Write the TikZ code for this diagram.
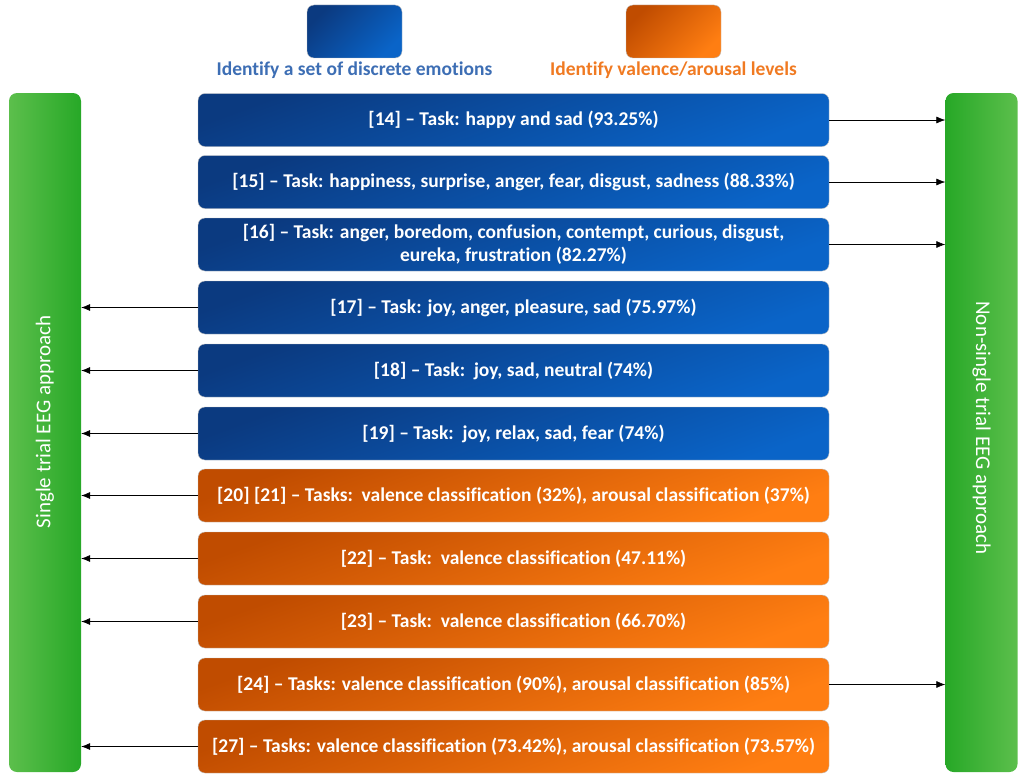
\documentclass[tikz,border=0pt]{standalone}
\usepackage{fontspec}
\setmainfont{Carlito}[Ligatures=NoCommon]
\usetikzlibrary{arrows.meta}
\definecolor{bluedark}{HTML}{0B3A80}
\definecolor{bluelight}{HTML}{0A64C8}
\definecolor{orgdark}{HTML}{C04C00}
\definecolor{orglight}{HTML}{FF7E12}
\definecolor{grnlight}{HTML}{5CBF4C}
\definecolor{grndark}{HTML}{27A827}
\definecolor{legblue}{HTML}{3D6EB4}
\definecolor{legorg}{HTML}{F07A22}
\tikzset{
  base/.style={rounded corners=7pt, minimum width=631pt, minimum height=53pt, inner sep=2pt,
    text=white, font=\fontsize{19.5}{23}\selectfont\bfseries, align=center, draw=black!25, line width=0.4pt},
  bluebox/.style={base, top color=bluedark, bottom color=bluelight, shading angle=20},
  orgbox/.style={base, top color=orgdark, bottom color=orglight, shading angle=20},
  legbox/.style={rounded corners=7pt, minimum width=95pt, minimum height=53pt, draw=black!25, line width=0.4pt},
  bar/.style={rounded corners=8pt, minimum width=72pt, minimum height=679pt, inner sep=0pt},
  bartext/.style={text=white, font=\fontsize{21}{24}\selectfont},
  legtext/.style={font=\fontsize{19.5}{22}\selectfont\bfseries},
  conn/.style={-{Latex[length=9pt,width=7pt]}, line width=0.6pt, black}
}
\begin{document}
\begin{tikzpicture}[x=1pt,y=-1pt]
\useasboundingbox (0,0) rectangle (1024,776);
% legend
\node[legbox, top color=bluedark, bottom color=bluelight, shading angle=45] (lb) at (354.5,31.5) {};
\node[legbox, top color=orgdark, bottom color=orglight, shading angle=45] (lo) at (673.5,31.5) {};
\node[legtext, text=legblue] (lbt) at (354.5,70) {Identify a set of discrete emotions};
\node[legtext, text=legorg] (lot) at (673.5,70) {Identify valence/arousal levels};
% side bars
\node[bar, left color=grnlight, right color=grndark] (L) at (45,432.5) {};
\node[bar, left color=grndark, right color=grnlight] (R) at (981.5,432.5) {};
\node[bartext, rotate=90] (Lt) at (45,422) {Single trial EEG approach};
\node[bartext, rotate=-90] (Rt) at (981.5,428) {Non-single trial EEG approach};
% boxes
\node[bluebox] (b1) at (513.5,120) {[14] -- Task: happy and sad (93.25\%)};
\node[bluebox] (b2) at (513.5,182) {[15] -- Task: happiness, surprise, anger, fear, disgust, sadness (88.33\%)};
\node[bluebox] (b3) at (513.5,244.5) {[16] -- Task: anger, boredom, confusion, contempt, curious, disgust,\\eureka, frustration (82.27\%)};
\node[bluebox] (b4) at (513.5,307.5) {[17] -- Task: joy, anger, pleasure, sad (75.97\%)};
\node[bluebox] (b5) at (513.5,370.5) {[18] -- Task:\ \ joy, sad, neutral (74\%)};
\node[bluebox] (b6) at (513.5,433.5) {[19] -- Task:\ \ joy, relax, sad, fear (74\%)};
\node[orgbox] (o7) at (513.5,495.5) {[20] [21] -- Tasks:\ \ valence classification (32\%), arousal classification (37\%)};
\node[orgbox] (o8) at (513.5,558.5) {[22] -- Task:\ \ valence classification (47.11\%)};
\node[orgbox] (o9) at (513.5,621.5) {[23] -- Task:\ \ valence classification (66.70\%)};
\node[orgbox] (o10) at (513.5,684.5) {[24] -- Tasks: valence classification (90\%), arousal classification (85\%)};
\node[orgbox] (o11) at (513.5,746.5) {[27] -- Tasks: valence classification (73.42\%), arousal classification (73.57\%)};
% connectors
\foreach \n in {b1,b2,b3,o10} \draw[conn] (\n.east) -- (\n.east -| R.west);
\foreach \n in {b4,b5,b6,o7,o8,o9,o11} \draw[conn] (\n.west) -- (\n.west -| L.east);
\end{tikzpicture}
\end{document}
